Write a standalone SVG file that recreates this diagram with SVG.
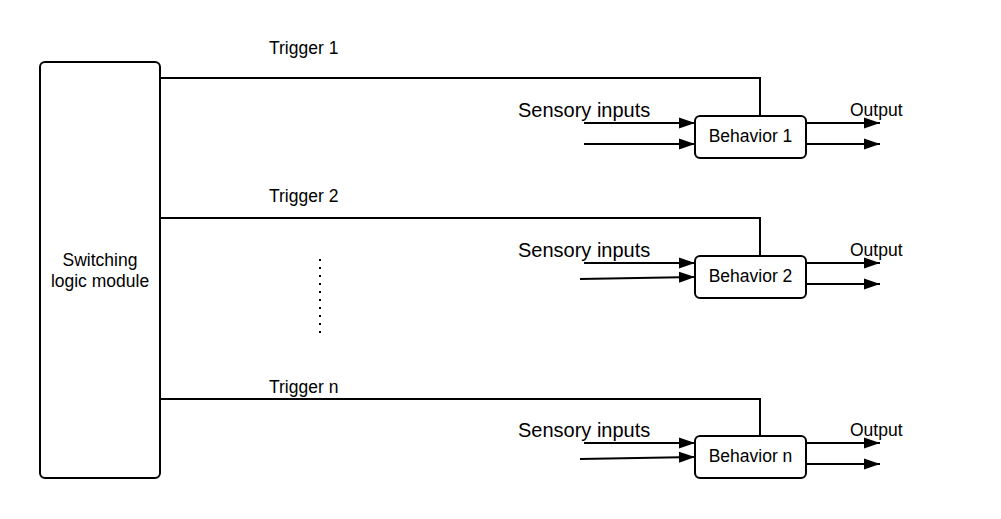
<svg xmlns="http://www.w3.org/2000/svg" width="1001" height="519" viewBox="0 0 1001 519">
<defs>
<marker id="arr" viewBox="0 0 16 12" refX="16" refY="6" markerWidth="16" markerHeight="12" markerUnits="userSpaceOnUse" orient="auto">
<path d="M0,0.5 L16,6 L0,11.5 Z" fill="#000"/>
</marker>
<style>
.box{fill:#fff;stroke:#000;stroke-width:2}
.ln{fill:none;stroke:#000;stroke-width:2}
.ar{fill:none;stroke:#000;stroke-width:2;marker-end:url(#arr)}
text{font-family:"Liberation Sans",Arial,sans-serif;fill:#000}
.t{font-size:17.5px}
.o{font-size:17.5px}
.s{font-size:20px}
.b{font-size:17.5px;text-anchor:middle}
</style>
</defs>
<rect width="1001" height="519" fill="#fff"/>
<g id="connectors">
<path class="ln" d="M160,78 H760 V116"/>
<path class="ln" d="M160,218 H760 V256"/>
<path class="ln" d="M160,399 H760 V436"/>
<line class="ar" x1="584" y1="123" x2="695" y2="123"/>
<line class="ar" x1="584" y1="144" x2="695" y2="144"/>
<line class="ar" x1="806" y1="123" x2="880" y2="123"/>
<line class="ar" x1="806" y1="144" x2="880" y2="144"/>
<line class="ar" x1="584" y1="263" x2="695" y2="263"/>
<line class="ar" x1="580" y1="279" x2="695" y2="277"/>
<line class="ar" x1="806" y1="263" x2="880" y2="263"/>
<line class="ar" x1="806" y1="284" x2="880" y2="284"/>
<line class="ar" x1="584" y1="443" x2="695" y2="443"/>
<line class="ar" x1="580" y1="459" x2="695" y2="457"/>
<line class="ar" x1="806" y1="443" x2="880" y2="443"/>
<line class="ar" x1="806" y1="464" x2="880" y2="464"/>
<line x1="320" y1="259" x2="320" y2="333" stroke="#000" stroke-width="2" stroke-dasharray="2,6"/>
</g>
<g id="switching">
<rect class="box" x="40" y="62" width="120" height="416" rx="5"/>
<text class="b" x="100" y="266">Switching</text>
<text class="b" x="100" y="287">logic module</text>
</g>
<g id="labels">
<text class="t" x="269" y="54">Trigger 1</text>
<text class="t" x="269" y="202">Trigger 2</text>
<text class="t" x="269" y="393">Trigger n</text>
<text class="s" x="518" y="117">Sensory inputs</text>
<text class="s" x="518" y="257">Sensory inputs</text>
<text class="s" x="518" y="437">Sensory inputs</text>
<text class="o" x="850" y="116">Output</text>
<text class="o" x="850" y="256">Output</text>
<text class="o" x="850" y="436">Output</text>
</g>
<g id="behavior1">
<rect class="box" x="695" y="116" width="111" height="42" rx="5"/>
<text class="b" x="750.5" y="142">Behavior 1</text>
</g>
<g id="behavior2">
<rect class="box" x="695" y="256" width="111" height="42" rx="5"/>
<text class="b" x="750.5" y="282">Behavior 2</text>
</g>
<g id="behaviorn">
<rect class="box" x="695" y="436" width="111" height="42" rx="5"/>
<text class="b" x="750.5" y="462">Behavior n</text>
</g>
</svg>
